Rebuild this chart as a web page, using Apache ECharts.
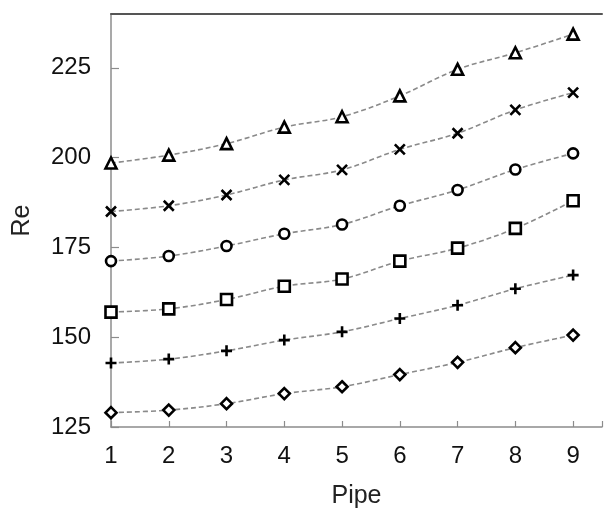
<!DOCTYPE html>
<html>
<head>
<meta charset="utf-8">
<script src="https://cdn.jsdelivr.net/npm/echarts@6/dist/echarts.min.js"></script>
<style>
  html, body { margin: 0; padding: 0; background: #fff; }
  #chart { width: 605px; height: 514px; }
</style>
</head>
<body>
<div id="chart"></div>
<script>
var pipes = [1, 2, 3, 4, 5, 6, 7, 8, 9];
var yTicks = [125, 150, 175, 200, 225];

var triangleRe = [198.5, 200.7, 203.9, 208.5, 211.4, 217.2, 224.6, 229.2, 234.4];
var crossRe = [185.0, 186.6, 189.6, 193.8, 196.6, 202.3, 206.8, 213.3, 218.1];
var circleRe = [171.2, 172.6, 175.4, 178.8, 181.4, 186.6, 191.0, 196.7, 201.2];
var squareRe = [157.0, 157.9, 160.5, 164.2, 166.2, 171.2, 174.8, 180.3, 188.0];
var plusRe = [142.8, 143.9, 146.2, 149.2, 151.5, 155.2, 158.9, 163.5, 167.3];
var diamondRe = [129.0, 129.7, 131.5, 134.3, 136.2, 139.6, 143.0, 147.1, 150.6];

var font = 'Liberation Sans, Arial, sans-serif';

function pairs(vals) {
  return pipes.map(function (p, i) { return [p, vals[i]]; });
}

function line(vals, symbol, size) {
  return {
    type: 'line',
    data: pairs(vals),
    smooth: 0.35,
    symbol: symbol,
    symbolSize: size,
    lineStyle: { color: '#8a8a8a', width: 1.6, type: [5, 3] },
    itemStyle: { color: '#fff', borderColor: '#000', borderWidth: 2.6 },
    z: 3
  };
}

var chart = echarts.init(document.getElementById('chart'));
chart.setOption({
  animation: false,
  grid: { left: 111, top: 14, right: -4, bottom: 85 },
  xAxis: [{
    type: 'value',
    min: 1,
    max: 9.5,
    interval: 1,
    name: 'Pipe',
    nameLocation: 'middle',
    nameGap: 57,
    nameTextStyle: { fontFamily: font, fontSize: 25, color: '#222' },
    axisLine: { lineStyle: { color: '#8c8c8c', width: 1.5 } },
    axisTick: { inside: true, length: 6, lineStyle: { color: '#8c8c8c', width: 1.2 } },
    axisLabel: {
      margin: 17,
      fontFamily: font,
      fontSize: 24,
      color: '#111',
      formatter: function (v) { return pipes.indexOf(v) >= 0 ? String(v) : ''; }
    },
    splitLine: { show: false }
  }, {
    type: 'value',
    position: 'top',
    min: 1,
    max: 9.5,
    axisLine: { show: true, lineStyle: { color: '#555', width: 2 } },
    axisTick: { show: false },
    axisLabel: { show: false },
    splitLine: { show: false }
  }],
  yAxis: {
    type: 'value',
    min: 125,
    max: 240,
    interval: 25,
    name: 'Re',
    nameLocation: 'middle',
    nameGap: 76,
    nameTextStyle: { fontFamily: font, fontSize: 25, color: '#222' },
    axisLine: { show: true, lineStyle: { color: '#8c8c8c', width: 1.5 } },
    axisTick: { inside: true, length: 8, lineStyle: { color: '#8c8c8c', width: 1.2 } },
    axisLabel: {
      margin: 20,
      fontFamily: font,
      fontSize: 24,
      color: '#111',
      showMaxLabel: false,
      formatter: function (v) { return yTicks.indexOf(v) >= 0 ? String(v) : ''; }
    },
    splitLine: { show: false }
  },
  series: [
    line(triangleRe, 'triangle', 11),
    line(crossRe, 'path://M0,0L10,10M10,0L0,10', 10),
    line(circleRe, 'circle', 10),
    line(squareRe, 'rect', 11),
    line(plusRe, 'path://M5,0L5,10M0,5L10,5', 11),
    line(diamondRe, 'diamond', 11)
  ]
});
</script>
</body>
</html>
